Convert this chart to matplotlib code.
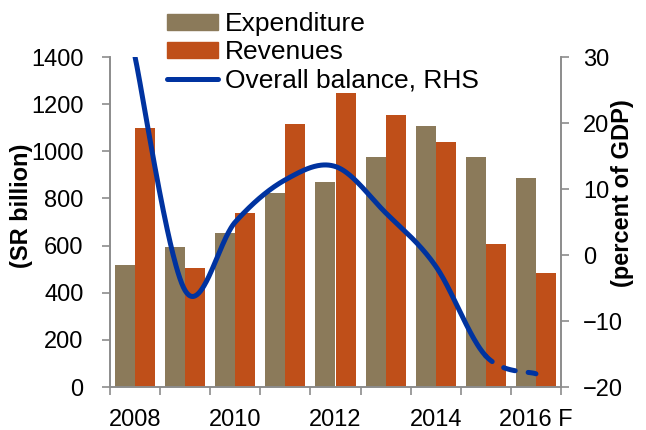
import numpy as np
import matplotlib.pyplot as plt
from matplotlib.patches import Patch
from matplotlib.lines import Line2D

plt.rcParams['font.family'] = ['Liberation Sans', 'DejaVu Sans']
plt.rcParams['font.size'] = 17

years = ['2008', '2009', '2010', '2011', '2012', '2013', '2014', '2015', '2016 F']
shown_labels = ['2008', '2010', '2012', '2014', '2016 F']
expenditure = [516, 593, 652, 825, 871, 975, 1109, 974, 888]
revenues = [1099, 506, 740, 1117, 1246, 1156, 1038, 605, 485]
balance = [30.0, -5.4, 5.0, 11.4, 13.4, 6.4, -1.7, -15.3, -18.0]  # percent of GDP

exp_color = '#8B7A5A'
rev_color = '#BF4F19'
line_color = '#0033A0'
axis_grey = '#8C8C8C'


# excel-like smoothed line (bezier, 1/6 tangents)
def smooth(xs, ys, n=60):
    px = list(xs)
    py = list(ys)
    out_x, out_y = [], []
    for i in range(len(px) - 1):
        i0 = max(i - 1, 0)
        i3 = min(i + 2, len(px) - 1)
        p0 = np.array([px[i], py[i]])
        p3 = np.array([px[i + 1], py[i + 1]])
        c1 = p0 + (np.array([px[i + 1], py[i + 1]]) - np.array([px[i0], py[i0]])) / 6
        c2 = p3 - (np.array([px[i3], py[i3]]) - np.array([px[i], py[i]])) / 6
        t = np.linspace(0, 1, n)
        pts = ((1 - t) ** 3)[:, None] * p0 + (3 * (1 - t) ** 2 * t)[:, None] * c1 \
            + (3 * (1 - t) * t ** 2)[:, None] * c2 + (t ** 3)[:, None] * p3
        out_x.append(pts[:, 0])
        out_y.append(pts[:, 1])
    return out_x, out_y


fig = plt.figure(figsize=(6.46, 4.30), dpi=100)
ax = fig.add_axes([110 / 646, 1 - 387 / 430, 451 / 646, 330 / 430])
ax2 = ax.twinx()

x = np.arange(len(years))
w = 0.4
ax.bar(x - w / 2, expenditure, w, color=exp_color, linewidth=0)
ax.bar(x + w / 2, revenues, w, color=rev_color, linewidth=0)

ax.set_xlim(-0.5, len(years) - 0.5)
ax.set_ylim(0, 1400)
ax.set_yticks(range(0, 1401, 200))

# category boundary ticks, labels on every other year
ax.set_xticks(np.arange(-0.5, len(years), 1.0))
ax.set_xticklabels([])
ax.set_xticks([years.index(s) for s in shown_labels], minor=True)
ax.set_xticklabels(shown_labels, minor=True)
ax.tick_params(axis='x', which='major', length=6, color=axis_grey, width=1.2)
ax.tick_params(axis='x', which='minor', length=0, pad=16)
ax.tick_params(axis='y', length=6, color=axis_grey, width=1.2, pad=13)

segx, segy = smooth(x, balance)
solid_x = np.concatenate(segx[:-1])
solid_y = np.concatenate(segy[:-1])
ax2.plot(solid_x, solid_y, color=line_color, lw=3.6, solid_capstyle='round')
ax2.plot(segx[-1], segy[-1], color=line_color, lw=3.6,
         linestyle=(0.7, (2.4, 2.6)), dash_capstyle='round')
ax2.set_ylim(-20, 30)
ax2.set_yticks(range(-20, 31, 10))
ax2.tick_params(axis='y', length=6, color=axis_grey, width=1.2, pad=10)

for a in (ax, ax2):
    a.spines['top'].set_visible(False)
    for s in ('left', 'right', 'bottom'):
        a.spines[s].set_color(axis_grey)
        a.spines[s].set_linewidth(1.2)

ax.set_ylabel('(SR billion)', fontweight='bold')
ax.yaxis.set_label_coords(-0.171, 0.55)
ax2.set_ylabel('(percent of GDP)', fontweight='bold', rotation=90)
ax2.yaxis.set_label_coords(1.111, 0.586)

handles = [Patch(color=exp_color), Patch(color=rev_color),
           Line2D([], [], color=line_color, lw=3.6, solid_capstyle='round')]
fig.legend(handles, ['Expenditure', 'Revenues', 'Overall balance, RHS'],
           loc='upper left', bbox_to_anchor=(167 / 646, 1 - 12.5 / 430),
           frameon=False, borderpad=0, borderaxespad=0, fontsize=19,
           handlelength=1.93, handleheight=0.53, handletextpad=0.27,
           labelspacing=0.15)

fig.savefig('out.png', dpi=100)
